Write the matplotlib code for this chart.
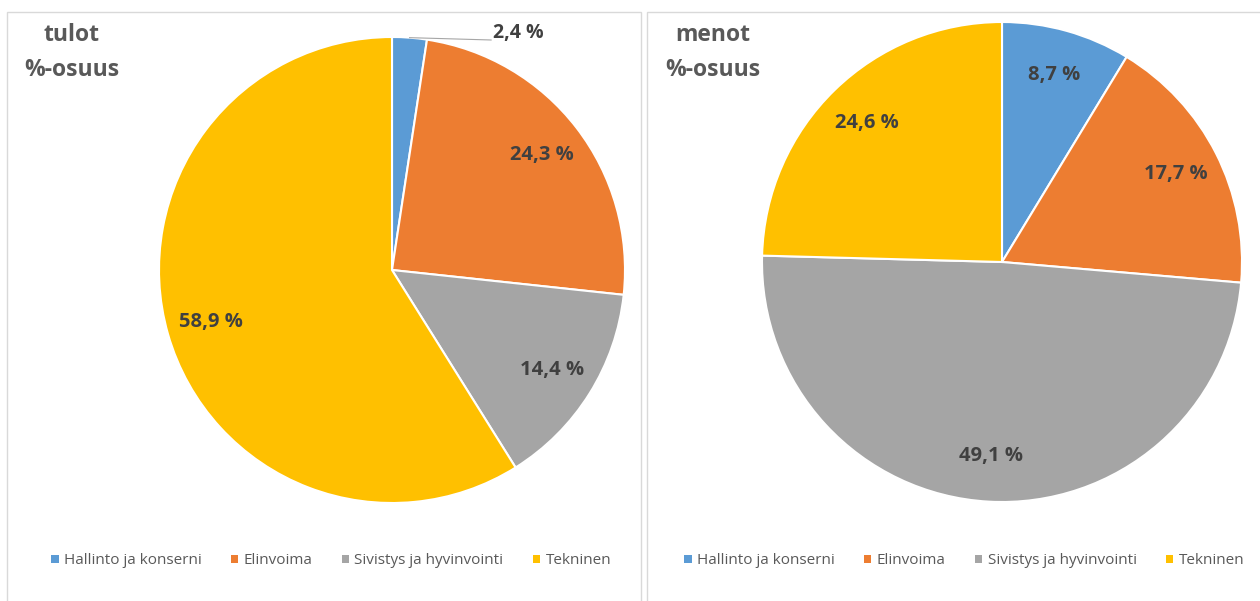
import numpy as np
import matplotlib.pyplot as plt
from matplotlib.patches import Rectangle, Patch

plt.rcParams["font.family"] = ["Open Sans", "DejaVu Sans"]

CATEGORIES = ["Hallinto ja konserni", "Elinvoima", "Sivistys ja hyvinvointi", "Tekninen"]
COLORS = ["#5B9BD5", "#ED7D31", "#A5A5A5", "#FFC000"]

tulot = [2.4, 24.3, 14.4, 58.9]
menot = [8.7, 17.7, 49.1, 24.6]

TITLES = ["tulot\n%-osuus", "menot\n%-osuus"]

W, H = 1260, 601


def fmt(v):
    return f"{v:.1f} %".replace(".", ",")


def px_ax(cx, cy, r):
    # axes box in figure coords for a pie centred at pixel (cx, cy) with radius r
    return [(cx - r) / W, 1 - (cy + r) / H, 2 * r / W, 2 * r / H]


fig = plt.figure(figsize=(W / 100, H / 100), dpi=100)
fig.patch.set_facecolor("white")

# panel frames
for x0, x1 in ((7, 641), (647, 1275)):
    fig.patches.append(Rectangle((x0 / W, -0.1), (x1 - x0) / W, 1.1 - 12 / H,
                                 transform=fig.transFigure, fill=False,
                                 edgecolor="#d9d9d9", lw=1.0))

panels = [
    (tulot, (392, 270, 233), 72, 331),
    (menot, (1002, 262, 240), 713, 964),
]

for (vals, (cx, cy, r), title_x, leg_x), title in zip(panels, TITLES):
    ax = fig.add_axes(px_ax(cx, cy, r))
    wedges, _ = ax.pie(vals, colors=COLORS, startangle=90, counterclock=False,
                       wedgeprops=dict(edgecolor="white", linewidth=1.5))
    ax.set_xlim(-1, 1)
    ax.set_ylim(-1, 1)
    ax.set_aspect("equal")

    for w, v in zip(wedges, vals):
        mid = np.deg2rad((w.theta1 + w.theta2) / 2)
        if v < 5:
            # small slice: label outside with a leader line
            ex, ey = np.cos(mid), np.sin(mid)
            ax.plot([ex, ex + 0.35], [ey, ey - 0.01], color="#a6a6a6", lw=0.8,
                    clip_on=False)
            ax.text(ex + 0.36, ey + 0.02, fmt(v), ha="left", va="center",
                    fontsize=14, fontweight="bold", color="#404040")
        else:
            d = 0.81
            ax.text(d * np.cos(mid), d * np.sin(mid), fmt(v), ha="center",
                    va="center", fontsize=14.5, fontweight="bold", color="#404040")

    fig.text(title_x / W, 1 - 23 / H, title, ha="center", va="top",
             multialignment="center", fontsize=16.5, fontweight="bold",
             color="#595959", linespacing=1.6)

    handles = [Patch(facecolor=c, edgecolor="none") for c in COLORS]
    fig.legend(handles, CATEGORIES, loc="center", ncol=4,
               bbox_to_anchor=(leg_x / W, 1 - 561 / H), frameon=False,
               fontsize=11, labelcolor="#595959", handlelength=0.5,
               handleheight=0.5, handletextpad=0.35, columnspacing=1.9)

fig.savefig("out.png", dpi=100, facecolor="white")
